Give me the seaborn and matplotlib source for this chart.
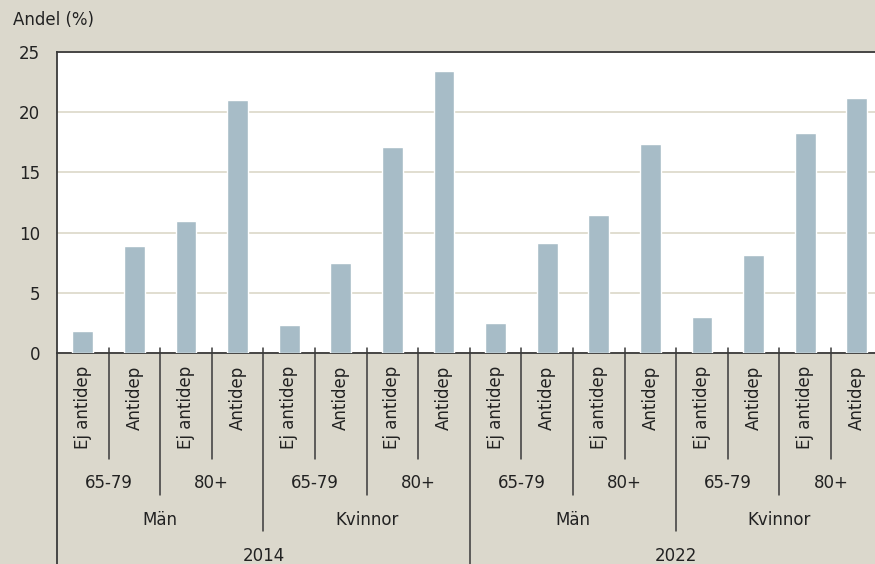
import numpy as np
import pandas as pd
import seaborn as sns
import matplotlib.pyplot as plt
from matplotlib.lines import Line2D

# data
years = ["2014", "2022"]
sexes = ["Män", "Kvinnor"]
ages = ["65-79", "80+"]
groups = ["Ej antidep", "Antidep"]
values_2014 = [1.8, 8.9, 11.0, 21.0, 2.3, 7.5, 17.1, 23.4]
values_2022 = [2.5, 9.1, 11.5, 17.4, 3.0, 8.1, 18.3, 21.2]

rows = []
vals = values_2014 + values_2022
i = 0
for yr in years:
    for sx in sexes:
        for ag in ages:
            for gr in groups:
                rows.append({"pos": i, "year": yr, "sex": sx, "age": ag, "group": gr, "value": vals[i]})
                i += 1
df = pd.DataFrame(rows)

BG = "#dbd8cc"
BAR = "#a7bcc7"
GRID = "#dcd8c8"
LINE = "#3a3a3a"
TXT = "#222222"
FS = 12

sns.set_style("white")
plt.rcParams["font.family"] = ["DejaVu Sans"]
plt.rcParams["font.size"] = FS

W, H = 875, 564
fig = plt.figure(figsize=(W / 100, H / 100), dpi=100, facecolor=BG)
ax_left, ax_top, ax_bot, step = 57, 52, 353, 51.6
ax = fig.add_axes([ax_left / W, (H - ax_bot) / H, 16 * step / W, (ax_bot - ax_top) / H])
ax.set_facecolor("white")

sns.barplot(data=df, x="pos", y="value", color=BAR, width=0.4, ax=ax,
            saturation=1, order=list(range(16)), zorder=3)

ax.set_ylim(0, 25)
ax.set_xlim(-0.5, 15.5)
ax.set_yticks([0, 5, 10, 15, 20, 25])
ax.yaxis.grid(True, color=GRID, lw=1.2, zorder=0)
ax.set_axisbelow(True)
ax.tick_params(axis="y", length=0, pad=12, labelsize=FS, colors=TXT)
ax.set_xticks([])
ax.set_xlabel("")
ax.set_ylabel("")
for s in ["top", "left", "bottom"]:
    ax.spines[s].set_color(LINE)
    ax.spines[s].set_linewidth(1.3)
ax.spines["right"].set_visible(False)

fig.text(13 / W, 1 - 20 / H, "Andel (%)", fontsize=FS, va="center", ha="left", color=TXT)

hpx = ax_bot - ax_top
def fy(ypix):
    return (ax_bot - ypix) / hpx

tr = ax.get_xaxis_transform()

def vline(x, y_end):
    ax.add_line(Line2D([x, x], [fy(348), fy(y_end)], transform=tr, color=LINE, lw=1.1, clip_on=False))

# level 1: bar labels
for _, r in df.iterrows():
    ax.text(r["pos"], fy(366), r["group"], rotation=90, ha="center", va="top",
            transform=tr, fontsize=FS, color=TXT)
    if r["pos"] % 2 == 0:
        vline(r["pos"] + 0.5, 459)

# level 2: age
for k in range(8):
    ax.text(2 * k + 0.5, fy(483), ages[k % 2], ha="center", va="center",
            transform=tr, fontsize=FS, color=TXT)
    if k % 2 == 0:
        vline(2 * k + 1.5, 495)

# level 3: sex
for k in range(4):
    ax.text(4 * k + 1.5, fy(520), sexes[k % 2], ha="center", va="center",
            transform=tr, fontsize=FS, color=TXT)
    if k % 2 == 0:
        vline(4 * k + 3.5, 531)

# level 4: year
for k in range(2):
    ax.text(8 * k + 3.5, fy(556), years[k], ha="center", va="center",
            transform=tr, fontsize=FS, color=TXT)
vline(7.5, 600)
ax.add_line(Line2D([-0.5, -0.5], [0, fy(600)], transform=tr, color=LINE, lw=1.3, clip_on=False))

fig.savefig("out.png", dpi=100, facecolor=BG)
